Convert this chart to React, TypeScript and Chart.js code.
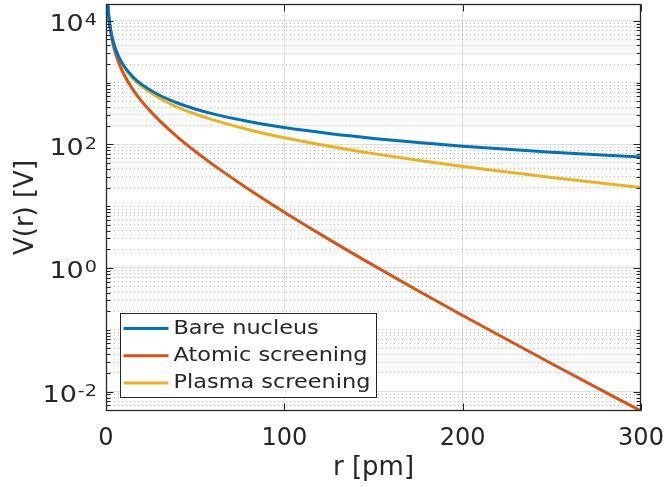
import { useEffect, useRef } from "react";
import { Chart, registerables } from "chart.js";

Chart.register(...registerables);

// r [pm]
const radii = [1, 1.5, 2, 3, 4, 5, 7, 10, 15, 20, 30, 40, 50, 60, 80, 100, 125, 150, 175, 200, 250, 300];
// V(r) [V]
const bareNucleus = [18720, 12480, 9360, 6240, 4680, 3744, 2674, 1872, 1248, 936, 624, 468, 374, 312, 234, 187, 149.8, 124.8, 107.0, 93.6, 74.9, 62.4];
const atomicScreening = [18130, 11904, 8787, 5676, 4125, 3198, 2144, 1366, 778, 498, 242, 132.5, 77.3, 47.0, 18.8, 7.98, 2.905, 1.1, 0.428, 0.17, 0.0281, 0.00484];
const plasmaScreening = [18650, 12410, 9290, 6170, 4610, 3674, 2604, 1803, 1179, 868, 557, 402, 310, 249, 173, 128, 93.5, 70.9, 55.3, 44.0, 29.2, 20.1];

const seriesLabels = ["Bare nucleus", "Atomic screening", "Plasma screening"];
const seriesColors = ["#0072BD", "#D95319", "#EDB120"];

const xLimits = [0, 300];
const xTickValues = [0, 100, 200, 300];
const yLimits = [0.00484, 18720];
const yLabelExponents = [-2, 0, 2, 4];

const xTitle = "r [pm]";
const yTitle = "V(r) [V]";

const FONT = '"DejaVu Sans", sans-serif';
const TEXT = "#262626";
const GRID_MAJOR = "rgba(38,38,38,0.15)";
const GRID_MINOR = "rgba(38,38,38,0.3)";

function buildLogTicks(min: number, max: number) {
  const out: { value: number; major: boolean }[] = [];
  const n0 = Math.floor(Math.log10(min));
  const n1 = Math.ceil(Math.log10(max));
  for (let n = n0; n <= n1; n++) {
    for (let k = 1; k <= 9; k++) {
      const v = k * Math.pow(10, n);
      if (v >= min * 0.9999 && v <= max * 1.0001) {
        out.push({ value: v, major: k === 1 && Math.abs(n) % 2 === 0 });
      }
    }
  }
  return out;
}

const seriesValues = [bareNucleus, atomicScreening, plasmaScreening];

export default function App() {
  const ref = useRef<HTMLCanvasElement>(null);

  useEffect(() => {
    const canvas = ref.current;
    if (!canvas) return;

    const matlabAxes = {
      id: "matlabAxes",
      afterDatasetsDraw(chart: any) {
        const ctx = chart.ctx as CanvasRenderingContext2D;
        const ca = chart.chartArea;
        const xs = chart.scales.x;
        const ys = chart.scales.y;
        const L = Math.round(ca.left) + 0.5;
        const R = Math.round(ca.right) - 0.5;
        const T = Math.round(ca.top) + 0.5;
        const B = Math.round(ca.bottom) - 0.5;
        ctx.save();
        ctx.strokeStyle = TEXT;
        ctx.lineWidth = 1;
        ctx.setLineDash([]);
        // ticks
        ctx.beginPath();
        for (const t of ys.ticks) {
          const py = Math.round(ys.getPixelForValue(t.value)) + 0.5;
          const len = t.major ? 7 : 4;
          ctx.moveTo(L, py);
          ctx.lineTo(L + len, py);
          ctx.moveTo(R, py);
          ctx.lineTo(R - len, py);
        }
        for (const v of xTickValues) {
          const px = Math.round(xs.getPixelForValue(v)) + 0.5;
          ctx.moveTo(px, B);
          ctx.lineTo(px, B - 7);
          ctx.moveTo(px, T);
          ctx.lineTo(px, T + 7);
        }
        ctx.stroke();
        ctx.lineWidth = 1.3;
        ctx.strokeRect(L, T, R - L, B - T);

        // y tick labels with superscript exponents
        const sx = 1.2;
        ctx.fillStyle = TEXT;
        for (const e of yLabelExponents) {
          const py = ys.getPixelForValue(Math.pow(10, e));
          const expStr = String(e);
          const right = ca.left - 9;
          ctx.font = `16px ${FONT}`;
          const ew = ctx.measureText(expStr).width * sx;
          ctx.textBaseline = "alphabetic";
          ctx.save();
          ctx.translate(right, py + 4.5);
          ctx.scale(sx, 1);
          ctx.textAlign = "right";
          ctx.fillText(expStr, 0, 0);
          ctx.restore();
          ctx.font = `22.5px ${FONT}`;
          ctx.save();
          ctx.translate(right - ew - 1, py + 10.5);
          ctx.scale(sx, 1);
          ctx.textAlign = "right";
          ctx.fillText("10", 0, 0);
          ctx.restore();
        }

        // legend
        const lsx = 1.12;
        ctx.font = `20px ${FONT}`;
        const datasets = chart.data.datasets;
        let maxW = 0;
        for (const d of datasets) maxW = Math.max(maxW, ctx.measureText(d.label).width * lsx);
        const bx = Math.round(ca.left + 14) + 0.5;
        const bh = 84;
        const by = Math.round(ca.bottom - 14 - bh) + 0.5;
        const bw = Math.round(53 + maxW + 6);
        ctx.fillStyle = "#ffffff";
        ctx.fillRect(bx, by, bw, bh);
        ctx.lineWidth = 1;
        ctx.strokeStyle = TEXT;
        ctx.strokeRect(bx, by, bw, bh);
        datasets.forEach((d: any, i: number) => {
          const ry = by + 15 + i * 27.3;
          ctx.strokeStyle = d.borderColor;
          ctx.lineWidth = 3;
          ctx.beginPath();
          ctx.moveTo(bx + 3, ry);
          ctx.lineTo(bx + 48, ry);
          ctx.stroke();
          ctx.fillStyle = TEXT;
          ctx.save();
          ctx.translate(bx + 53, ry);
          ctx.scale(lsx, 1);
          ctx.textAlign = "left";
          ctx.textBaseline = "middle";
          ctx.fillText(d.label, 0, 0);
          ctx.restore();
        });
        ctx.restore();
      },
    };

    const chart = new Chart(canvas, {
      type: "line",
      data: {
        datasets: seriesLabels.map((label, i) => ({
          label,
          data: radii.map((r, j) => ({ x: r, y: seriesValues[i][j] })),
          borderColor: seriesColors[i],
          backgroundColor: seriesColors[i],
          borderWidth: 3,
          pointRadius: 0,
          cubicInterpolationMode: "monotone" as const,
          fill: false,
        })),
      },
      options: {
        animation: false,
        responsive: false,
        events: [],
        layout: { padding: { left: 0, top: 4, right: 24, bottom: 0 } },
        plugins: {
          legend: { display: false },
          tooltip: { enabled: false },
          title: { display: false },
        },
        scales: {
          x: {
            type: "linear",
            min: xLimits[0],
            max: xLimits[1],
            afterBuildTicks: (s: any) => {
              s.ticks = xTickValues.map((v) => ({ value: v }));
            },
            afterFit: (s: any) => {
              s.height = 76;
              s.paddingLeft = 0;
              s.paddingRight = 0;
            },
            ticks: {
              color: TEXT,
              font: { family: FONT, size: 24 },
              padding: 13,
              maxRotation: 0,
              autoSkip: false,
              callback: (v: any) => String(v),
            },
            grid: {
              drawTicks: false,
              lineWidth: 1,
              color: (c: any) =>
                c.tick && (c.tick.value === xLimits[0] || c.tick.value === xLimits[1])
                  ? "rgba(0,0,0,0)"
                  : GRID_MAJOR,
            },
            border: { display: false },
            title: {
              display: true,
              text: xTitle,
              color: TEXT,
              font: { family: FONT, size: 26 },
              padding: { top: 0, bottom: 3 },
            },
          },
          y: {
            type: "logarithmic",
            min: yLimits[0],
            max: yLimits[1],
            afterBuildTicks: (s: any) => {
              s.ticks = buildLogTicks(yLimits[0], yLimits[1]);
            },
            afterFit: (s: any) => {
              s.width = 106;
              s.paddingTop = 0;
              s.paddingBottom = 0;
            },
            ticks: { display: false },
            grid: {
              drawTicks: false,
              lineWidth: 1,
              color: (c: any) => (c.tick && c.tick.major ? GRID_MAJOR : GRID_MINOR),
            },
            border: {
              display: false,
              dash: (c: any) => (c.tick && c.tick.major ? [] : [1, 3]),
            },
            title: {
              display: true,
              text: yTitle,
              color: TEXT,
              font: { family: FONT, size: 26 },
              padding: { top: 11, bottom: 0 },
            },
          },
        },
      },
      plugins: [matlabAxes],
    } as any);

    return () => chart.destroy();
  }, []);

  return (
    <div style={{ position: "fixed", left: 0, top: 0, width: 665, height: 487, background: "#ffffff" }}>
      <canvas ref={ref} width={665} height={487} style={{ display: "block" }} />
    </div>
  );
}
